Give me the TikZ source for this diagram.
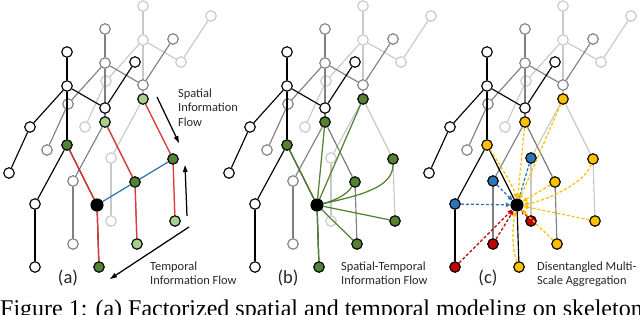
\documentclass[tikz,border=0pt]{standalone}
\usepackage{fontspec}
\setmainfont{Liberation Serif}
\newfontfamily\labelfont{Carlito}
\usepackage{tikz}
\usetikzlibrary{positioning, arrows.meta, calc}

\definecolor{darkgreen}{RGB}{84,130,53}
\definecolor{lightgreen}{RGB}{169,209,142}
\definecolor{aggyellow}{RGB}{255,192,0}
\definecolor{aggblue}{RGB}{46,117,182}
\definecolor{aggred}{RGB}{192,0,0}
\definecolor{flowred}{RGB}{232,52,52}
\definecolor{midgray}{RGB}{128,128,128}
\definecolor{backgray}{RGB}{200,200,200}

\begin{document}
\begin{tikzpicture}[x=1pt, y=-1pt]
    \tikzset{
        joint/.style={circle, draw=#1, fill=white, line width=1.15pt, minimum size=10.5pt, inner sep=0pt},
        bone/.style={draw=#1, line width=1.15pt},
        hl/.style={draw=black, fill=#1},
        root/.style={draw=black, fill=black, minimum size=12pt},
        flow/.style={draw=#1, line width=1.25pt},
        agg/.style={draw=#1, line width=1.25pt, dash pattern=on 3pt off 2pt, -{Triangle[length=4.5pt, width=4.5pt]}},
        info arrow/.style={draw=black, line width=1.25pt, -{Triangle[length=7pt, width=4.5pt]}},
        field label/.style={font=\labelfont\fontsize{12.4}{14.5}\selectfont, text=black!85, align=left, anchor=north west, inner sep=0pt},
        panel label/.style={font=\labelfont\fontsize{18.5}{22}\selectfont, text=black!85, inner sep=0pt},
        % highlighted joints of panel (a)
        hl a0sp/.style={hl=darkgreen}, hl a0rk/.style={root}, hl a0rf/.style={hl=darkgreen},
        hl a1sp/.style={hl=lightgreen}, hl a1rk/.style={hl=darkgreen}, hl a1rf/.style={hl=lightgreen},
        hl a2sp/.style={hl=lightgreen}, hl a2rk/.style={hl=darkgreen}, hl a2rf/.style={hl=lightgreen},
        % panel (b)
        hl b0sp/.style={hl=darkgreen}, hl b0rk/.style={root}, hl b0rf/.style={hl=darkgreen},
        hl b1sp/.style={hl=darkgreen}, hl b1rk/.style={hl=darkgreen}, hl b1rf/.style={hl=darkgreen},
        hl b2sp/.style={hl=darkgreen}, hl b2rk/.style={hl=darkgreen}, hl b2rf/.style={hl=darkgreen},
        % panel (c)
        hl c0sp/.style={hl=aggyellow}, hl c0rk/.style={root}, hl c0rf/.style={hl=aggyellow},
        hl c1sp/.style={hl=aggyellow}, hl c1rk/.style={hl=aggyellow}, hl c1rf/.style={hl=aggyellow},
        hl c2sp/.style={hl=aggyellow}, hl c2rk/.style={hl=aggyellow}, hl c2rf/.style={hl=aggyellow},
        hl c0lk/.style={hl=aggblue}, hl c1lk/.style={hl=aggblue}, hl c2lk/.style={hl=aggblue},
        hl c0lf/.style={hl=aggred}, hl c1lf/.style={hl=aggred}, hl c2lf/.style={hl=aggred}
    }
    \useasboundingbox (0,0) rectangle (640,314);
    \clip (0,0) rectangle (640,314);

    % three skeleton frames per panel, back to front
    \foreach \pn/\px in {a/0, b/220, c/420} {
        \foreach \fr/\col in {2/backgray, 1/midgray, 0/black} {
            \foreach \jt/\dx/\dy in {hd/0/-34, nk/0/0, le/-37/41, lh/-58/87, re/38/22, rh/68/-24,
                                     sp/0/59, lk/-32/118, lf/-32/181, rk/30/119, rf/32/181} {
                \node[joint=\col, hl \pn\fr\jt/.try] (\pn\fr\jt) at ({\px+67+38*\fr+\dx}, {86-23*\fr+\dy}) {};
            }
            \foreach \u/\v in {nk/hd, nk/le, le/lh, nk/re, re/rh, nk/sp, sp/lk, lk/lf, sp/rk, rk/rf} {
                \draw[bone=\col] (\pn\fr\u) -- (\pn\fr\v);
            }
        }
    }

    % (a) factorized flow
    \foreach \fr in {0,1,2} {
        \draw[flow=flowred] (a\fr sp) -- (a\fr rk) -- (a\fr rf);
    }
    \draw[flow=aggblue] (a0rk) -- (a1rk) -- (a2rk);
    \coordinate (sflow start) at (157,97);
    \coordinate (sflow end) at (179,143);
    \coordinate (tup start) at (187,216);
    \coordinate (tup end) at (185,165);
    \coordinate (tflow start) at (189,227);
    \coordinate (tflow end) at (110,279);
    \draw[info arrow] (sflow start) -- (sflow end);
    \draw[info arrow] (tup start) -- (tup end);
    \draw[info arrow] (tflow start) -- (tflow end);

    % (b) spatial-temporal flow
    \foreach \n in {b0sp, b1sp, b2sp, b0rf, b1rf, b2rf} {
        \draw[flow=darkgreen] (b0rk) -- (\n);
    }
    \draw[flow=darkgreen] (b0rk) .. controls +(20,-5) and +(-8,12) .. (b1rk);
    \draw[flow=darkgreen] (b0rk) .. controls +(45,-10) and +(0,28) .. (b2rk);

    % (c) multi-scale aggregation
    \foreach \n/\ac in {c0lk/aggblue, c1lk/aggblue, c2lk/aggblue, c0lf/aggred, c1lf/aggred, c2lf/aggred,
                        c1sp/aggyellow, c2sp/aggyellow, c1rk/aggyellow, c1rf/aggyellow, c2rf/aggyellow} {
        \draw[agg=\ac] (\n) -- (c0rk);
    }
    \draw[agg=aggyellow] (c0sp) .. controls +(12,18) and +(-2,-15) .. (c0rk);
    \draw[agg=aggyellow] (c0rf) .. controls +(-8,-20) and +(-4,18) .. (c0rk);
    \draw[agg=aggyellow] (c2rk) .. controls +(-8,25) and +(25,-3) .. (c0rk);

    % labels
    \node[field label] (spatial label) at (178,88.5) {Spatial\\Information\\Flow};
    \node[field label] (temporal label) at (150,261.5) {Temporal\\Information Flow};
    \node[field label] (st label) at (341,261.5) {Spatial-Temporal\\Information Flow};
    \node[field label] (agg label) at (537,261.5) {Disentangled Multi-\\Scale Aggregation};
    \node[panel label] (label a) at (68,278) {(a)};
    \node[panel label] (label b) at (288,278) {(b)};
    \node[panel label] (label c) at (488,278) {(c)};
    \node[anchor=base west, inner sep=0pt, font=\fontsize{24}{28}\selectfont] (caption) at (0,316)
        {Figure 1: (a) Factorized spatial and temporal modeling on skeleton};
\end{tikzpicture}
\end{document}
